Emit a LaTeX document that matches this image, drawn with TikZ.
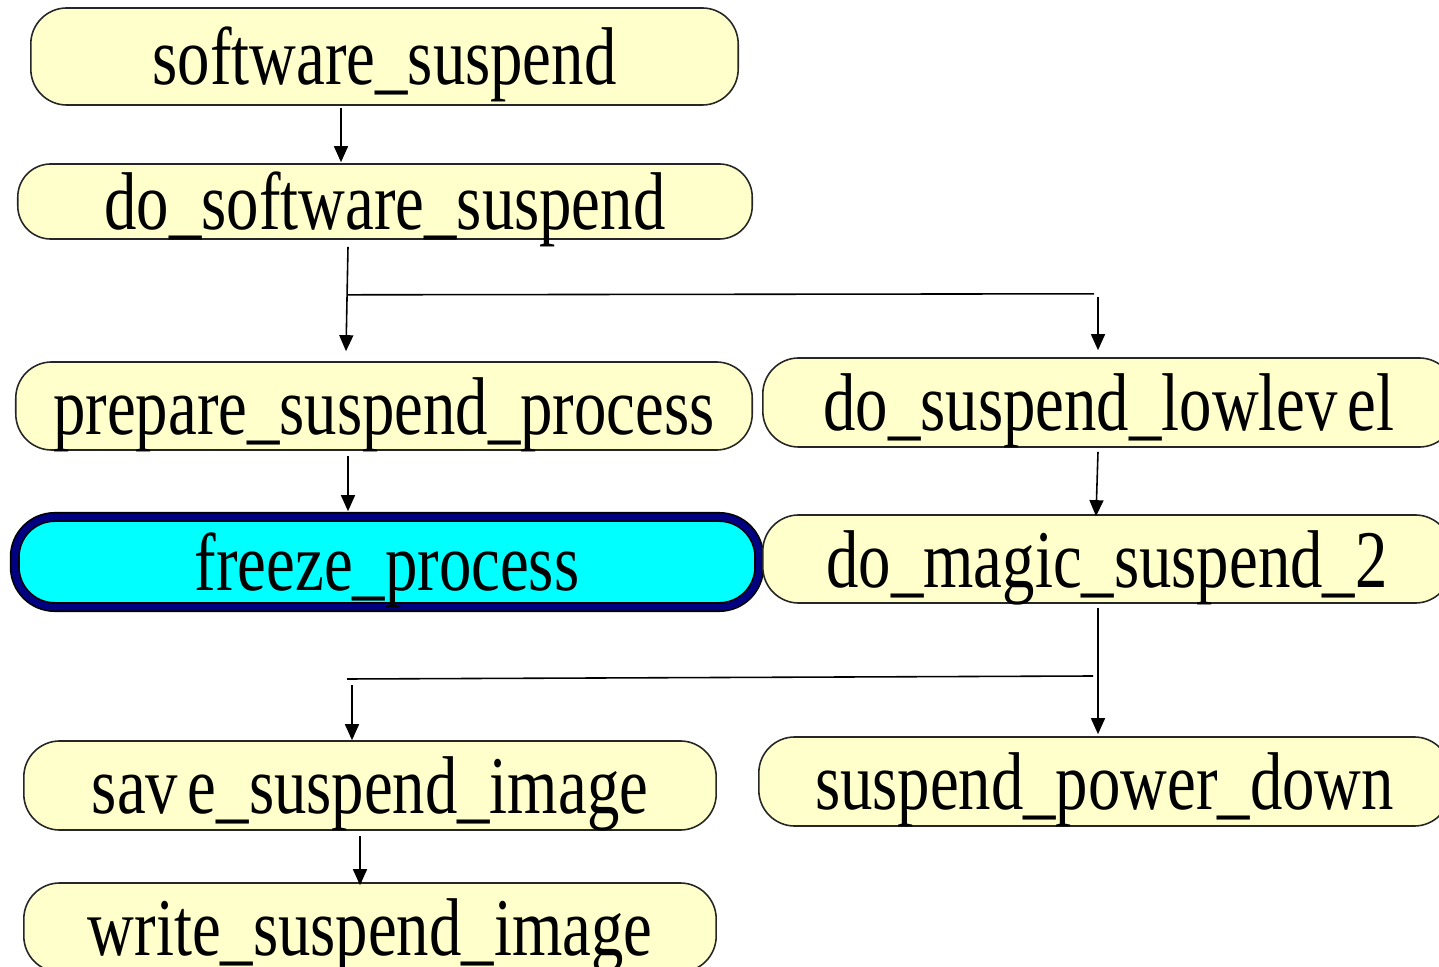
\documentclass[tikz,border=0pt]{standalone}
\usepackage{fontspec}
\setmainfont{Liberation Serif}[FakeStretch=0.79]
\usetikzlibrary{arrows.meta,calc}
\definecolor{boxfill}{HTML}{FFFFCC}
\definecolor{deepnavy}{HTML}{000080}
\definecolor{brightcyan}{HTML}{00FFFF}
\begin{document}
\begin{tikzpicture}[x=0.01cm,y=-0.01cm,
  fn/.style={draw=black!85, line width=0.45pt, fill=boxfill, rounded corners=0.36cm,
    inner sep=0pt, text height=0.56cm, text depth=0pt,
    font=\fontsize{23.3pt}{28pt}\selectfont},
  hot/.style={fn, fill=brightcyan, draw=black, double=deepnavy, double distance=1.95pt,
    rounded corners=0.4cm},
  arr/.style={line width=0.45pt, -{Triangle[width=0.14cm,length=0.16cm]}},
  wire/.style={line width=0.45pt}]
\useasboundingbox (0,0) rectangle (1439,967);

% call graph nodes
\node[fn, minimum width=7.07cm, minimum height=0.97cm] (ss)  at (384.5,56.5) {software\_suspend};
\node[fn, minimum width=7.34cm, minimum height=0.75cm, rounded corners=0.33cm] (dss) at (385,201.5) {do\_software\_suspend};
\node[fn, minimum width=7.36cm, minimum height=0.88cm] (psp) at (384,406) {prepare\_suspend\_process};
\node[fn, minimum width=6.92cm, minimum height=0.89cm] (dsl) at (1109,402.5) {do\_suspend\_lowlev\kern0.12em el};
\node[hot, minimum width=7.44cm, minimum height=0.90cm] (fzp) at (387,562) {freeze\_process};
\node[fn, minimum width=6.88cm, minimum height=0.88cm] (dms) at (1107,559) {do\_magic\_suspend\_2};
\node[fn, minimum width=6.92cm, minimum height=0.89cm] (ssi) at (370,785.5) {sav\kern0.12em e\_suspend\_image};
\node[fn, minimum width=6.91cm, minimum height=0.89cm] (spd) at (1104.5,781.5) {suspend\_power\_down};
\node[fn, minimum width=6.92cm, minimum height=0.89cm] (wsi) at (370,927.5) {write\_suspend\_image};

% software_suspend -> do_software_suspend
\draw[arr] ($(ss.south -| 341,0)+(0,2)$) -- ($(dss.north -| 341,0)+(0,-1)$);

% do_software_suspend fans out
\coordinate (j1) at ($(dss.south -| 348,0)+(0,55)$);
\draw[arr] ($(dss.south -| 348,0)+(0,7)$) -- ($(psp.north -| 346,0)+(0,-10)$);
\draw[wire] (j1) -- ($(j1 -| 1094,0)+(0,-1)$);
\draw[arr] ($(j1 -| 1098,0)+(0,2)$) -- ($(dsl.north -| 1098,0)+(0,-7)$);

% prepare_suspend_process -> freeze_process
\draw[arr] ($(psp.south -| 348,0)+(0,5)$) -- ($(fzp.north -| 348,0)+(0,-5)$);

% do_suspend_lowlevel -> do_magic_suspend_2
\draw[arr] ($(dsl.south -| 1098,0)+(0,4)$) -- ($(dms.north -| 1096,0)+(0,2)$);

% do_magic_suspend_2 fans out
\coordinate (j2) at (347,679);
\draw[arr] ($(dms.south -| 1098,0)+(0,4)$) -- ($(spd.north -| 1098,0)+(0,-2)$);
\draw[wire] (j2) -- (1093,676);
\draw[arr] ($(j2 -| 352,0)+(0,6)$) -- (ssi.north -| 352,0);

% save_suspend_image -> write_suspend_image
\draw[arr] ($(ssi.south -| 360,0)+(0,5)$) -- ($(wsi.north -| 360,0)+(0,3)$);
\end{tikzpicture}
\end{document}
